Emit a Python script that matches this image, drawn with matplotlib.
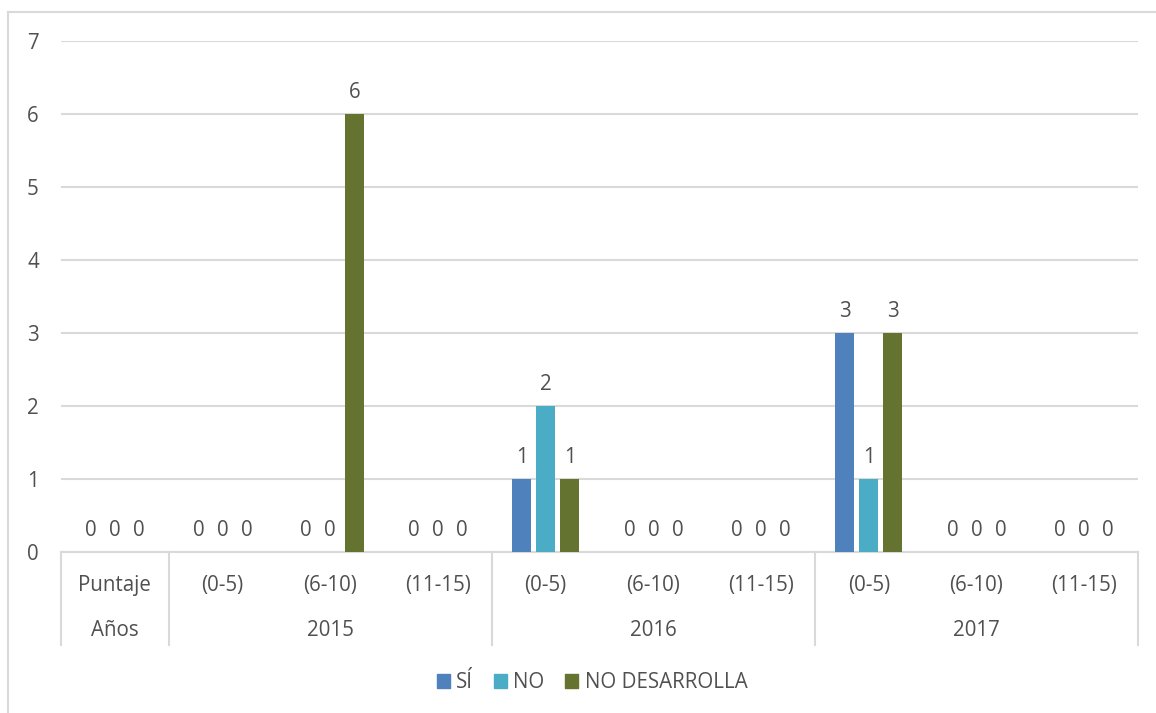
import matplotlib
matplotlib.use("Agg")
import matplotlib.pyplot as plt
import numpy as np
from matplotlib.lines import Line2D
from matplotlib.patches import Patch
import matplotlib.transforms as mtransforms

plt.rcParams['font.family'] = ['Open Sans', 'DejaVu Sans']

categories = ['Puntaje', '(0-5)', '(6-10)', '(11-15)', '(0-5)', '(6-10)', '(11-15)',
              '(0-5)', '(6-10)', '(11-15)']
groups = ['Años', '2015', '2016', '2017']
group_spans = [(0, 0), (1, 3), (4, 6), (7, 9)]

series_names = ['SÍ', 'NO', 'NO DESARROLLA']
si = [0, 0, 0, 0, 1, 0, 0, 3, 0, 0]
no = [0, 0, 0, 0, 2, 0, 0, 1, 0, 0]
no_desarrolla = [0, 0, 6, 0, 1, 0, 0, 3, 0, 0]
colors = ['#4F81BD', '#4BACC6', '#647430']

W, H = 1156, 713
fig = plt.figure(figsize=(W / 100, H / 100), dpi=100)
left, right = 61 / W, 1138 / W
bottom, top = (H - 552) / H, (H - 41) / H
ax = fig.add_axes([left, bottom, right - left, top - bottom])

txt = '#505050'
grid = '#D9D9D9'
fs = 14.8

x = np.arange(len(categories))
pitch = 0.223
bw = 0.178
for i, (vals, c) in enumerate(zip([si, no, no_desarrolla], colors)):
    xs = x + (i - 1) * pitch
    ax.bar(xs, vals, width=bw, color=c, zorder=3)
    for xi, v in zip(xs, vals):
        ax.annotate(str(v), (xi, v), xytext=(0, 8), textcoords='offset points',
                    ha='center', va='bottom', fontsize=fs, color=txt)

ax.set_xlim(-0.5, len(categories) - 0.5)
ax.set_ylim(0, 7)
ax.set_yticks(range(0, 8))
ax.yaxis.grid(True, color=grid, linewidth=1.5, zorder=0)
ax.set_axisbelow(True)
for s in ['top', 'right', 'left']:
    ax.spines[s].set_visible(False)
ax.spines['bottom'].set_color(grid)
ax.spines['bottom'].set_linewidth(1.5)
ax.tick_params(axis='y', length=0, pad=16, labelsize=fs, labelcolor=txt)
ax.set_xticks([])

# multi-level category axis
trans = mtransforms.blended_transform_factory(ax.transData, fig.transFigure)
y_cat = (H - 585) / H
y_grp = (H - 631) / H
y_sep_top = (H - 552) / H
y_sep_bot = (H - 645) / H
for xi, lab in zip(x, categories):
    fig.text(xi, y_cat, lab, transform=trans, ha='center', va='center',
             fontsize=fs, color=txt)
for (a, b), lab in zip(group_spans, groups):
    fig.text((a + b) / 2, y_grp, lab, transform=trans, ha='center', va='center',
             fontsize=fs, color=txt)
seps = [-0.5] + [b + 0.5 for a, b in group_spans]
for sx in seps:
    fig.add_artist(Line2D([sx, sx], [y_sep_top, y_sep_bot], transform=trans,
                          color=grid, linewidth=1.5))

# legend
handles = [Patch(color=c) for c in colors]
fig.legend(handles, series_names, loc='center', bbox_to_anchor=(592 / W, (H - 683) / H),
           ncol=3, frameon=False, fontsize=fs, labelcolor=txt,
           handlelength=0.65, handleheight=0.65, handletextpad=0.3, columnspacing=1.0)

# chart border
fig.add_artist(Line2D([8 / W, 1.0], [(H - 12) / H, (H - 12) / H],
                      transform=fig.transFigure, color=grid, linewidth=1.5))
fig.add_artist(Line2D([8 / W, 8 / W], [(H - 12) / H, 0],
                      transform=fig.transFigure, color=grid, linewidth=1.5))

fig.savefig('out.png', dpi=100, facecolor='white')
